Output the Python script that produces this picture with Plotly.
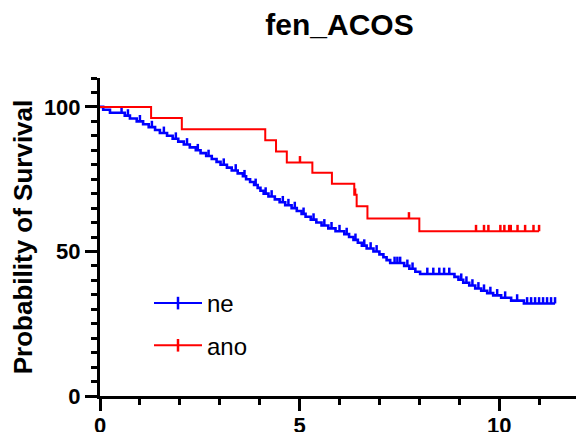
import numpy as np
import plotly.graph_objects as go

# ---------------- data ----------------
title_text = "fen_ACOS"
y_title = "Probability of Survival"
series_names = ["ne", "ano"]

# "ne" group: event times and survival after each event
ne_times = [0.0, 0.08, 0.25, 0.62, 0.75, 0.92, 1.08, 1.22, 1.38, 1.50, 1.68, 1.82, 1.96,
            2.10, 2.25, 2.40, 2.52, 2.66, 2.80, 2.92, 3.02, 3.18, 3.30, 3.45, 3.58,
            3.66, 3.76, 3.86, 3.95, 4.02, 4.10, 4.22, 4.38, 4.50, 4.64, 4.80, 4.93,
            5.05, 5.15, 5.28, 5.42, 5.55, 5.72, 5.90, 6.12, 6.24, 6.35, 6.46, 6.56,
            6.68, 6.85, 7.00, 7.10, 7.18, 7.27, 7.62, 7.75, 7.90, 8.02, 8.88, 8.98,
            9.10, 9.25, 9.40, 9.55, 9.70, 9.85, 10.05, 10.30, 10.62]
ne_surv = [100.0, 99.0, 98.0, 97.0, 96.0, 95.0, 94.0, 93.0, 92.0, 91.0, 90.0, 89.0, 88.0,
           87.0, 86.0, 85.0, 84.0, 83.0, 82.0, 81.0, 80.0, 79.0, 78.0, 77.0, 76.0,
           75.0, 74.0, 73.0, 72.0, 71.0, 70.0, 69.0, 68.0, 67.0, 66.0, 65.0, 64.0,
           63.0, 62.0, 61.0, 60.0, 59.0, 58.0, 57.0, 56.0, 55.0, 54.0, 53.0, 52.0,
           51.0, 50.0, 49.0, 48.0, 47.0, 46.0, 45.0, 44.0, 43.0, 42.2, 41.2, 40.2,
           39.2, 38.2, 37.2, 36.4, 35.6, 34.8, 34.0, 33.0, 32.0]
ne_censored = [0.54, 0.70, 1.0, 1.30, 1.60, 1.90, 2.18, 2.45, 2.72, 3.10, 3.40, 3.62,
               3.90, 4.15, 4.30, 4.58, 4.72, 4.88, 5.10, 5.35, 5.62, 5.80, 6.00, 6.18,
               6.40, 6.62, 6.78, 6.93, 7.38, 7.45, 7.52, 7.70, 7.83, 8.20, 8.35, 8.50,
               8.62, 8.75, 9.05, 9.18, 9.33, 9.48, 9.62, 9.78, 9.95, 10.15, 10.45,
               10.70, 10.80, 10.90, 11.00, 11.10, 11.20, 11.30, 11.40]

# "ano" group
ano_times = [0.0, 1.28, 2.05, 4.14, 4.41, 4.68, 5.32, 5.81, 6.37, 6.43, 6.70, 8.00]
ano_surv = [100.0, 96.2, 92.3, 88.5, 84.6, 80.8, 77.2, 73.4, 69.6, 65.6, 61.4, 57.0]
ano_censored = [5.01, 6.39, 7.74, 9.42, 9.62, 9.73, 10.03, 10.13, 10.25, 10.29,
                10.46, 10.65, 10.86, 11.00]

colors = ["#0000FF", "#FF0000"]

# ---------------- helpers ----------------
def step_value(times, surv, t):
    idx = np.searchsorted(np.asarray(times), t, side="right") - 1
    return float(np.asarray(surv)[idx])


def curve_xy(times, surv, censored):
    end = max(censored[-1], times[-1])
    xs = list(times) + [end]
    ys = list(surv) + [surv[-1]]
    return xs, ys


FONT = "Liberation Sans, Arial, sans-serif"
fig = go.Figure()

groups = [
    (ne_times, ne_surv, ne_censored, colors[0], series_names[0], 2.6),
    (ano_times, ano_surv, ano_censored, colors[1], series_names[1], 2.0),
]

for times, surv, cens, col, name, lw in groups:
    xs, ys = curve_xy(times, surv, cens)
    fig.add_trace(go.Scatter(x=xs, y=ys, mode="lines", line=dict(color=col, width=lw, shape="hv"),
                             showlegend=False, hoverinfo="skip"))
    cy = [step_value(times, surv, t) for t in cens]
    fig.add_trace(go.Scatter(x=cens, y=cy, mode="markers",
                             marker=dict(size=1, color="rgba(0,0,0,0)"),
                             error_y=dict(type="data", symmetric=False, array=[2.2] * len(cens),
                                          arrayminus=[0] * len(cens), color=col, thickness=2.5, width=0),
                             showlegend=False, hoverinfo="skip"))

# legend entries
for i, (times, surv, cens, col, name, lw) in enumerate(groups):
    fig.add_trace(go.Scatter(x=[None], y=[None], mode="lines+markers", name=name,
                             legendgroup=name,
                             line=dict(color=col, width=2),
                             marker=dict(symbol="line-ns-open", size=9, line=dict(color=col, width=2.5))))

# the page body adds an 8px offset; margins compensate so the plot area sits at
# x 100..579, y 78..396 on screen
fig.update_layout(
    width=584, height=432,
    margin=dict(l=92, r=13, t=70, b=44, autoexpand=False),
    paper_bgcolor="white", plot_bgcolor="white",
    title=dict(text=title_text, x=0.5, xref="paper", y=1 - 6 / 432, yref="container", yanchor="top",
               font=dict(family=FONT, size=30, color="black", weight="bold")),
    showlegend=True,
    legend=dict(x=49 / 479, y=(396 - 281) / 318, xanchor="left", yanchor="top",
                font=dict(family=FONT, size=24, color="black"), bgcolor="rgba(0,0,0,0)",
                traceorder="grouped", tracegroupgap=8, itemwidth=48),
)

axis_common = dict(showgrid=False, zeroline=False, showline=True, linecolor="black", linewidth=3,
                   ticks="outside", ticklen=12, tickwidth=3, tickcolor="black", automargin=False,
                   tickfont=dict(family=FONT, size=22, color="black", weight="bold"))

fig.update_xaxes(range=[0, 12], tickvals=[0, 5, 10], ticktext=["0", "5", "10"], ticklabelstandoff=-4,
                 minor=dict(dtick=1, tick0=0, ticks="outside", ticklen=6, tickwidth=3, tickcolor="black"),
                 **axis_common)
fig.update_yaxes(range=[0, 110], tickvals=[0, 50, 100], ticktext=["0", "50", "100"],
                 minor=dict(dtick=5, tick0=0, ticks="outside", ticklen=6, tickwidth=3, tickcolor="black"),
                 title=dict(text=y_title, standoff=6,
                            font=dict(family=FONT, size=26, color="black", weight="bold")),
                 **axis_common)

fig.write_html("out.html")
